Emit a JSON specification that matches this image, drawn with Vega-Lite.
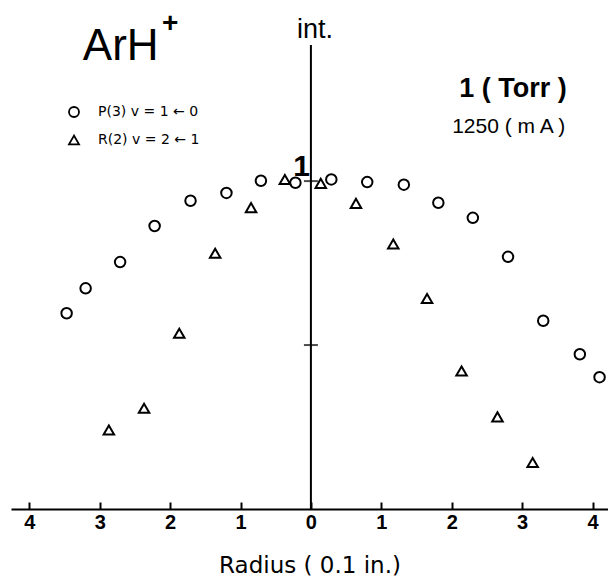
{
  "$schema": "https://vega.github.io/schema/vega-lite/v6.json",
  "width": 597,
  "height": 464,
  "autosize": {"type": "none"},
  "padding": {"left": 11, "top": 45, "right": 0, "bottom": 69},
  "background": "white",
  "config": {"view": {"stroke": null}, "font": "Liberation Sans"},
  "datasets": {
    "pts": [
      {"series": "P(3)  v = 1 ← 0", "r": -3.47, "int": 0.597},
      {"series": "P(3)  v = 1 ← 0", "r": -3.20, "int": 0.673},
      {"series": "P(3)  v = 1 ← 0", "r": -2.71, "int": 0.753},
      {"series": "P(3)  v = 1 ← 0", "r": -2.22, "int": 0.863},
      {"series": "P(3)  v = 1 ← 0", "r": -1.71, "int": 0.940},
      {"series": "P(3)  v = 1 ← 0", "r": -1.20, "int": 0.964},
      {"series": "P(3)  v = 1 ← 0", "r": -0.71, "int": 1.001},
      {"series": "P(3)  v = 1 ← 0", "r": -0.22, "int": 0.995},
      {"series": "P(3)  v = 1 ← 0", "r": 0.29, "int": 1.005},
      {"series": "P(3)  v = 1 ← 0", "r": 0.80, "int": 0.997},
      {"series": "P(3)  v = 1 ← 0", "r": 1.32, "int": 0.989},
      {"series": "P(3)  v = 1 ← 0", "r": 1.81, "int": 0.934},
      {"series": "P(3)  v = 1 ← 0", "r": 2.30, "int": 0.888},
      {"series": "P(3)  v = 1 ← 0", "r": 2.80, "int": 0.769},
      {"series": "P(3)  v = 1 ← 0", "r": 3.30, "int": 0.574},
      {"series": "P(3)  v = 1 ← 0", "r": 3.82, "int": 0.472},
      {"series": "P(3)  v = 1 ← 0", "r": 4.10, "int": 0.402},
      {"series": "R(2)  v = 2 ← 1", "r": -2.87, "int": 0.241},
      {"series": "R(2)  v = 2 ← 1", "r": -2.37, "int": 0.307},
      {"series": "R(2)  v = 2 ← 1", "r": -1.87, "int": 0.536},
      {"series": "R(2)  v = 2 ← 1", "r": -1.36, "int": 0.780},
      {"series": "R(2)  v = 2 ← 1", "r": -0.85, "int": 0.919},
      {"series": "R(2)  v = 2 ← 1", "r": -0.37, "int": 1.005},
      {"series": "R(2)  v = 2 ← 1", "r": 0.14, "int": 0.993},
      {"series": "R(2)  v = 2 ← 1", "r": 0.64, "int": 0.932},
      {"series": "R(2)  v = 2 ← 1", "r": 1.17, "int": 0.808},
      {"series": "R(2)  v = 2 ← 1", "r": 1.65, "int": 0.642},
      {"series": "R(2)  v = 2 ← 1", "r": 2.14, "int": 0.421},
      {"series": "R(2)  v = 2 ← 1", "r": 2.65, "int": 0.281},
      {"series": "R(2)  v = 2 ← 1", "r": 3.15, "int": 0.142}
    ],
    "yticks": [{"v": 0.5}, {"v": 1}],
    "one": [{}]
  },
  "layer": [
    {
      "data": {"name": "pts"},
      "mark": {"type": "point", "filled": false, "color": "black", "strokeWidth": 2, "opacity": 1},
      "encoding": {
        "x": {
          "field": "r", "type": "quantitative",
          "scale": {"domain": [-4.26, 4.22], "nice": false, "zero": false},
          "axis": {
            "values": [-4, -3, -2, -1, 0, 1, 2, 3, 4],
            "labelExpr": "'' + abs(datum.value)",
            "tickSize": -7, "tickWidth": 2, "tickColor": "black",
            "domainColor": "black", "domainWidth": 2,
            "labelFont": "Liberation Sans", "labelFontWeight": "bold", "labelFontSize": 20,
            "labelColor": "black", "labelPadding": 10, "grid": false,
            "title": "Radius ( 0.1 in.)", "titleFont": "DejaVu Sans", "titleFontSize": 23,
            "titleFontWeight": "normal", "titleColor": "black", "titlePadding": 22
          }
        },
        "y": {
          "field": "int", "type": "quantitative",
          "scale": {"domain": [0, 1.415], "nice": false},
          "axis": null
        },
        "shape": {
          "field": "series", "type": "nominal",
          "scale": {"domain": ["P(3)  v = 1 ← 0", "R(2)  v = 2 ← 1"], "range": ["circle", "triangle-up"]},
          "legend": {
            "orient": "none", "legendX": 56, "legendY": 60, "title": null, "padding": 0,
            "labelFontSize": 14, "labelColor": "black", "labelFont": "DejaVu Sans",
            "symbolSize": 100, "symbolStrokeWidth": 1.8, "symbolStrokeColor": "black",
            "symbolFillColor": "transparent", "labelOffset": 17, "rowPadding": 11
          }
        },
        "size": {"value": 110}
      }
    },
    {
      "data": {"name": "one"},
      "mark": {"type": "rule", "color": "black", "strokeWidth": 2},
      "encoding": {"x": {"datum": 0}}
    },
    {
      "data": {"name": "yticks"},
      "mark": {"type": "tick", "orient": "horizontal", "color": "black", "thickness": 2, "size": 14},
      "encoding": {"x": {"datum": 0}, "y": {"field": "v", "type": "quantitative"}}
    },
    {
      "data": {"name": "one"},
      "mark": {"type": "text", "text": "1", "fontSize": 30, "fontWeight": "bold", "align": "right", "baseline": "alphabetic", "dx": -1, "dy": -5, "color": "black"},
      "encoding": {"x": {"datum": 0}, "y": {"datum": 1}}
    },
    {
      "data": {"name": "one"},
      "mark": {"type": "text", "text": "int.", "fontSize": 27, "align": "center", "baseline": "alphabetic", "dx": 4, "dy": -7, "color": "black"},
      "encoding": {"x": {"datum": 0}, "y": {"datum": 1.415}}
    },
    {
      "data": {"name": "one"},
      "mark": {"type": "text", "text": "ArH", "fontSize": 44, "align": "left", "baseline": "alphabetic", "color": "black"},
      "encoding": {"x": {"datum": -3.24}, "y": {"datum": 1.369}}
    },
    {
      "data": {"name": "one"},
      "mark": {"type": "text", "text": "+", "fontSize": 28, "fontWeight": "bold", "align": "center", "baseline": "middle", "color": "black"},
      "encoding": {"x": {"datum": -2.0}, "y": {"datum": 1.48}}
    },
    {
      "data": {"name": "one"},
      "mark": {"type": "text", "text": "1 ( Torr )", "fontSize": 27, "fontWeight": "bold", "align": "center", "baseline": "alphabetic", "color": "black"},
      "encoding": {"x": {"datum": 2.87}, "y": {"datum": 1.256}}
    },
    {
      "data": {"name": "one"},
      "mark": {"type": "text", "text": "1250 ( m A )", "fontSize": 21, "align": "center", "baseline": "alphabetic", "color": "black"},
      "encoding": {"x": {"datum": 2.81}, "y": {"datum": 1.146}}
    }
  ]
}
